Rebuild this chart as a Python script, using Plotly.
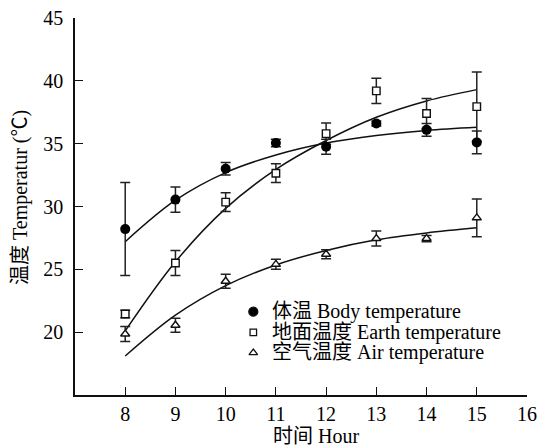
import plotly.graph_objects as go

hours = [8, 9, 10, 11, 12, 13, 14, 15]

body_mean = [28.2, 30.55, 33.0, 35.05, 34.75, 36.6, 36.1, 35.1]
body_err = [3.7, 1.0, 0.5, 0.3, 0.6, 0.2, 0.5, 0.9]
earth_mean = [21.45, 25.5, 30.35, 32.65, 35.8, 39.2, 37.4, 37.95]
earth_err = [0.3, 1.0, 0.75, 0.75, 0.85, 1.0, 1.2, 2.75]
air_mean = [19.85, 20.55, 24.05, 25.4, 26.2, 27.45, 27.45, 29.1]
air_err = [0.6, 0.55, 0.55, 0.4, 0.35, 0.6, 0.25, 1.5]

# fitted curves at each hour
body_fit = [27.2, 30.5, 32.7, 34.1, 35.05, 35.65, 36.05, 36.3]
earth_fit = [20.1, 25.6, 29.85, 32.95, 35.25, 37.1, 38.4, 39.3]
air_fit = [18.1, 21.35, 23.7, 25.35, 26.5, 27.35, 27.9, 28.3]

series_names = ["体温 Body temperature", "地面温度 Earth temperature", "空气温度 Air temperature"]
x_ticks = [8, 9, 10, 11, 12, 13, 14, 15, 16]
y_ticks = [20, 25, 30, 35, 40, 45]

FONT = "Liberation Serif, Times New Roman, Noto Sans CJK SC, serif"
FS = 20
INK = "#111111"

fig = go.Figure()

for fit in (body_fit, earth_fit, air_fit):
    fig.add_trace(go.Scatter(x=hours, y=fit, mode="lines",
                             line=dict(color=INK, width=1.5, shape="spline", smoothing=1.0),
                             showlegend=False, hoverinfo="skip"))

def err(arr):
    return dict(type="data", array=arr, visible=True, color="#222222", thickness=1.5, width=5)

fig.add_trace(go.Scatter(x=hours, y=air_mean, mode="markers", error_y=err(air_err),
                         marker=dict(symbol="triangle-up", size=8, color="white",
                                     line=dict(color=INK, width=1.4)),
                         showlegend=False, name=series_names[2]))
fig.add_trace(go.Scatter(x=hours, y=earth_mean, mode="markers", error_y=err(earth_err),
                         marker=dict(symbol="square", size=7.5, color="white",
                                     line=dict(color=INK, width=1.4)),
                         showlegend=False, name=series_names[1]))
fig.add_trace(go.Scatter(x=hours, y=body_mean, mode="markers", error_y=err(body_err),
                         marker=dict(symbol="circle", size=10, color="black",
                                     line=dict(color="black", width=0)),
                         showlegend=False, name=series_names[0]))

# custom legend (markers on hidden 0-1 axes overlaying the plot)
leg_y = [0.221, 0.166, 0.112]
leg_x = 0.3945
leg_symbols = ["circle", "square", "triangle-up"]
leg_sizes = [9, 6.5, 7.5]
leg_fill = ["black", "white", "white"]
for i in range(3):
    fig.add_trace(go.Scatter(x=[leg_x], y=[leg_y[i]], xaxis="x2", yaxis="y2", mode="markers",
                             marker=dict(symbol=leg_symbols[i], size=leg_sizes[i], color=leg_fill[i],
                                         line=dict(color=INK, width=1.3)),
                             showlegend=False, hoverinfo="skip"))
    fig.add_annotation(x=0.4314, y=leg_y[i], xref="paper", yref="paper", text=series_names[i],
                       showarrow=False, xanchor="left", yanchor="middle",
                       font=dict(family=FONT, size=FS, color="black"))

fig.add_annotation(x=-0.1217, y=0.525, xref="paper", yref="paper", text="温度 Temperatur (℃)",
                   textangle=-90, showarrow=False, xanchor="center", yanchor="middle",
                   font=dict(family=FONT, size=FS, color="black"))
fig.add_annotation(x=0.533, y=-0.108, xref="paper", yref="paper", text="时间 Hour",
                   showarrow=False, xanchor="center", yanchor="middle",
                   font=dict(family=FONT, size=FS, color="black"))

# plot area spans x 75..527, y 18..395 in the window (body margin removed below)
fig.update_layout(
    width=541, height=448,
    margin=dict(l=75, r=14, t=18, b=53),
    paper_bgcolor="white", plot_bgcolor="white",
    font=dict(family=FONT, size=FS, color="black"),
    showlegend=False,
    xaxis=dict(range=[7, 16], tickvals=x_ticks, ticks="inside", ticklen=8, tickwidth=1.3,
               tickcolor=INK, showline=True, linecolor=INK, linewidth=1.5, showgrid=False,
               zeroline=False, ticklabeloverflow="allow", automargin=False,
               tickfont=dict(family=FONT, size=FS, color="black")),
    yaxis=dict(range=[15, 45], tickvals=y_ticks, ticks="inside", ticklen=8, tickwidth=1.3,
               tickcolor=INK, showline=True, linecolor=INK, linewidth=1.5, showgrid=False,
               zeroline=False, ticklabelstandoff=6, ticklabeloverflow="allow", automargin=False,
               tickfont=dict(family=FONT, size=FS, color="black")),
    xaxis2=dict(range=[0, 1], overlaying="x", visible=False, fixedrange=True),
    yaxis2=dict(range=[0, 1], overlaying="y", visible=False, fixedrange=True),
)

fig.write_html("out.html", config={"displayModeBar": False},
               post_script="document.body.style.margin='0';document.body.style.overflow='hidden';")
